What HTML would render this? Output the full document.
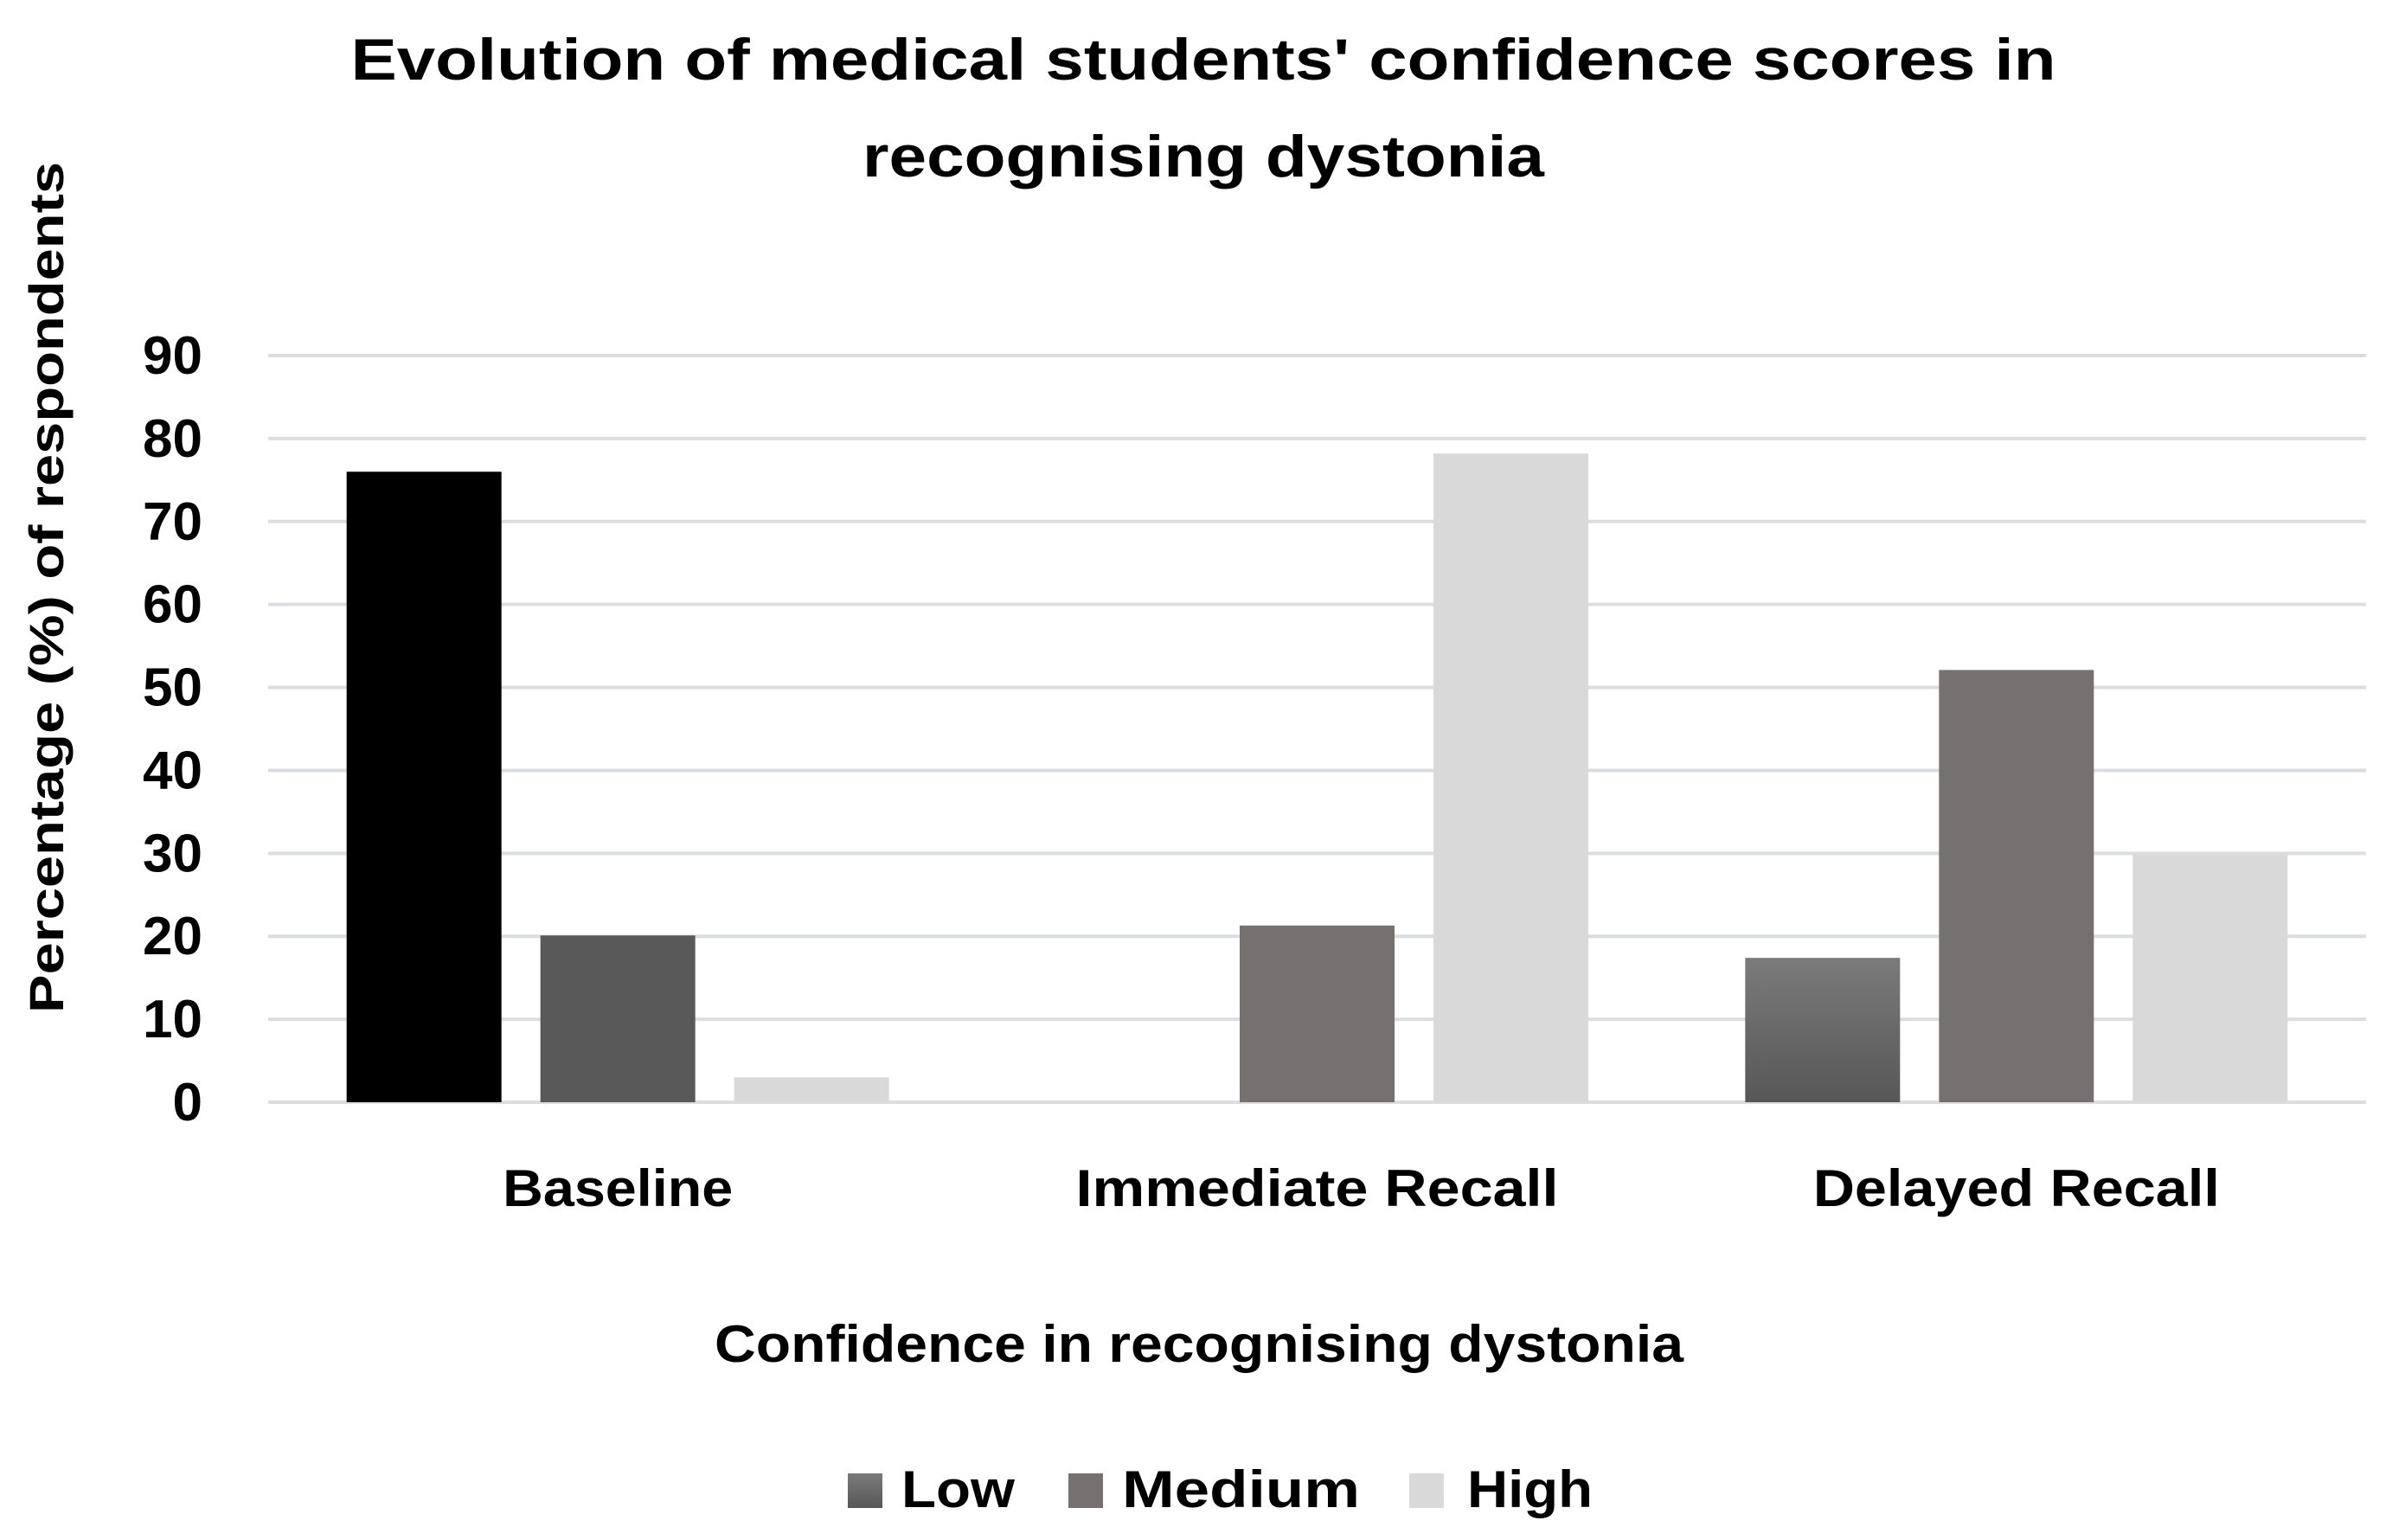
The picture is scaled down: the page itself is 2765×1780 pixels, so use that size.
<!DOCTYPE html>
<html><head><meta charset="utf-8"><style>
html,body{margin:0;padding:0;background:#fff}
svg{display:block;font-family:"Liberation Sans",sans-serif;font-weight:bold}
</style></head><body>
<svg id="chart" width="2765" height="1780" viewBox="0 0 2765 1780" xmlns="http://www.w3.org/2000/svg">
<defs>
<linearGradient id="lowGrad" x1="0" y1="0" x2="0" y2="1"><stop offset="0" stop-color="#7b7b7b"/><stop offset="1" stop-color="#575757"/></linearGradient>
</defs>
<text x="1391" y="92" font-size="68" text-anchor="middle" textLength="1971" lengthAdjust="spacingAndGlyphs">Evolution of medical students' confidence scores in</text>
<text x="1391" y="204" font-size="68" text-anchor="middle" textLength="788" lengthAdjust="spacingAndGlyphs">recognising dystonia</text>
<g id="grid"></g>
<g id="yticks"></g>
<g id="bars"></g>
<g id="xlabels"></g>
<text transform="translate(73,679) rotate(-90)" font-size="56" text-anchor="middle" textLength="984" lengthAdjust="spacingAndGlyphs">Percentage (%) of respondents</text>
<text x="1386" y="1574" font-size="60" text-anchor="middle" textLength="1120" lengthAdjust="spacingAndGlyphs">Confidence in recognising dystonia</text>
<g>
<rect x="980" y="1703" width="40" height="40" fill="url(#lowGrad)"/>
<text x="1042" y="1742" font-size="60" textLength="131" lengthAdjust="spacingAndGlyphs">Low</text>
<rect x="1235" y="1703" width="40" height="40" fill="#767171"/>
<text x="1297" y="1742" font-size="60" textLength="275" lengthAdjust="spacingAndGlyphs">Medium</text>
<rect x="1629" y="1703" width="40" height="40" fill="#d9d9d9"/>
<text x="1696" y="1742" font-size="60" textLength="145" lengthAdjust="spacingAndGlyphs">High</text>
</g>
</svg>
<script>
const categories = ["Baseline", "Immediate Recall", "Delayed Recall"];
const lowValues = [76, 0, 17.4];
const mediumValues = [20.1, 21.3, 52.1];
const highValues = [3, 78.2, 29.9];
const yTicks = [0, 10, 20, 30, 40, 50, 60, 70, 80, 90];
const labelWidths = [266, 558, 470];

const NS = "http://www.w3.org/2000/svg";
const plotL = 310, plotR = 2735, y0 = 1274, y90 = 411;
function yScale(v){ return y0 - (v/90)*(y0-y90); }
const groupW = (plotR-plotL)/categories.length;
function groupCenter(i){ return plotL + groupW*(i+0.5); }
const barW = 179, gap = 45;

const grid = document.getElementById('grid');
const yt = document.getElementById('yticks');
yTicks.forEach(t=>{
  const l = document.createElementNS(NS,'line');
  
  
  l.setAttribute('x1',plotL); l.setAttribute('x2',plotR);
  l.setAttribute('y1',yScale(t)); l.setAttribute('y2',yScale(t));
  l.setAttribute('stroke','#dcdde1'); l.setAttribute('stroke-width','4');
  grid.appendChild(l);
  const tx = document.createElementNS(NS,'text');
  
  
  tx.setAttribute('x',234); tx.setAttribute('y',yScale(t)+21);
  tx.setAttribute('font-size','62'); tx.setAttribute('text-anchor','end');
  tx.textContent = t;
  yt.appendChild(tx);
});

const bars = document.getElementById('bars');
const seriesList = [
  {vals: lowValues, fills: ["#000000","url(#lowGrad)","url(#lowGrad)"], name:'low'},
  {vals: mediumValues, fills: ["#595959","#767171","#767171"], name:'medium'},
  {vals: highValues, fills: ["#d9d9d9","#d9d9d9","#d9d9d9"], name:'high'}
];
categories.forEach((c,i)=>{
  const start = groupCenter(i) - (3*barW+2*gap)/2;
  seriesList.forEach((s,k)=>{
    const v = s.vals[i];
    if (v <= 0) return;
    const r = document.createElementNS(NS,'rect');
    
    
    r.setAttribute('x', start + k*(barW+gap));
    r.setAttribute('y', yScale(v));
    r.setAttribute('width', barW);
    r.setAttribute('height', y0 - yScale(v));
    r.setAttribute('fill', s.fills[i]);
    bars.appendChild(r);
  });
  const tx = document.createElementNS(NS,'text');
  
  
  tx.setAttribute('x', groupCenter(i)); tx.setAttribute('y', 1394);
  tx.setAttribute('font-size','60'); tx.setAttribute('text-anchor','middle');
  tx.setAttribute('textLength', labelWidths[i]); tx.setAttribute('lengthAdjust','spacingAndGlyphs');
  tx.textContent = c;
  document.getElementById('xlabels').appendChild(tx);
});
</script>
</body></html>
